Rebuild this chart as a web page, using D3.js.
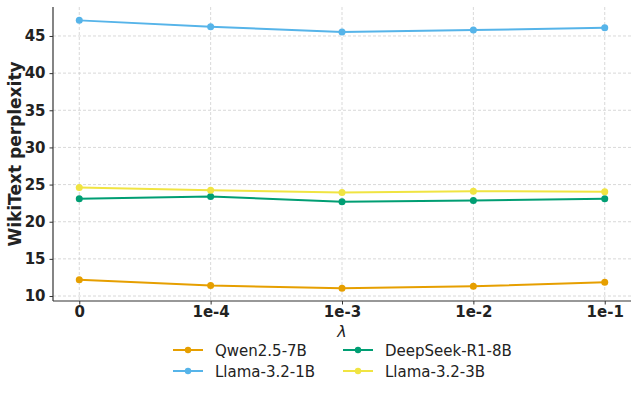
<!DOCTYPE html>
<html>
<head>
<meta charset="utf-8">
<script src="https://cdn.jsdelivr.net/npm/d3@7"></script>
<style>
  body { margin: 0; background: #fff; }
  svg text { font-family: "DejaVu Sans", sans-serif; }
</style>
</head>
<body>
<div id="chart"></div>
<script>
// lambda values on the x axis
var lambdas = ["0", "1e-4", "1e-3", "1e-2", "1e-1"];
var yTicks = [10, 15, 20, 25, 30, 35, 40, 45];

var models = ["Qwen2.5-7B", "Llama-3.2-1B", "DeepSeek-R1-8B", "Llama-3.2-3B"];
var colors = ["#E69F00", "#56B4E9", "#009E73", "#F0E442"];

var qwen = [12.2, 11.4, 11.05, 11.3, 11.85];
var llama1b = [47.1, 46.25, 45.55, 45.8, 46.1];
var deepseek = [23.1, 23.4, 22.7, 22.85, 23.1];
var llama3b = [24.6, 24.25, 23.95, 24.1, 24.05];
var seriesValues = [qwen, llama1b, deepseek, llama3b];

var W = 639, H = 394;
var margin = { left: 53, right: 8, top: 7, bottom: 93 };
var w = W - margin.left - margin.right,
    h = H - margin.top - margin.bottom;

var x = d3.scaleLinear().domain([-0.2, 4.2]).range([0, w]);
var y = d3.scaleLinear().domain([9.33, 48.9]).range([h, 0]);

var svg = d3.select("#chart").append("svg")
  .attr("width", W).attr("height", H);
var g = svg.append("g")
  .attr("transform", "translate(" + margin.left + "," + margin.top + ")");

// grid
g.append("g").selectAll("line").data(yTicks).join("line")
  .attr("x1", 0).attr("x2", w)
  .attr("y1", function (d) { return y(d); }).attr("y2", function (d) { return y(d); })
  .attr("stroke", "#cfcfcf").attr("stroke-width", 0.8).attr("stroke-dasharray", "3,2");
g.append("g").selectAll("line").data(lambdas).join("line")
  .attr("y1", 0).attr("y2", h)
  .attr("x1", function (d, i) { return x(i); }).attr("x2", function (d, i) { return x(i); })
  .attr("stroke", "#cfcfcf").attr("stroke-width", 0.8).attr("stroke-dasharray", "3,2");

// axes
var xAxis = d3.axisBottom(x).tickValues(d3.range(lambdas.length))
  .tickFormat(function (i) { return lambdas[i]; }).tickSize(3.5).tickPadding(2);
var yAxis = d3.axisLeft(y).tickValues(yTicks).tickSize(3.5).tickPadding(4);

var gx = g.append("g").attr("transform", "translate(0," + h + ")").call(xAxis);
var gy = g.append("g").call(yAxis);
[gx, gy].forEach(function (a) {
  a.select(".domain").attr("stroke", "#333").attr("stroke-width", 1.2);
  a.selectAll(".tick line").attr("stroke", "#333");
  a.selectAll(".tick text").attr("fill", "#222")
    .style("font-size", "15px").style("font-weight", "bold");
});
gx.select(".domain").attr("d", "M0,0H" + w);
gy.select(".domain").attr("d", "M0," + h + "V0");

// axis labels
svg.append("text")
  .attr("transform", "translate(21," + (margin.top + h / 2) + ") rotate(-90)")
  .attr("text-anchor", "middle")
  .style("font-size", "17px").style("font-weight", "bold").attr("fill", "#222")
  .text("WikiText perplexity");
svg.append("text")
  .attr("x", margin.left + x(2)).attr("y", 337)
  .attr("text-anchor", "middle")
  .style("font-size", "16px").style("font-style", "italic").attr("fill", "#222")
  .text("λ");

// lines
var line = d3.line()
  .x(function (d, i) { return x(i); })
  .y(function (d) { return y(d); });

seriesValues.forEach(function (vals, k) {
  g.append("path").datum(vals)
    .attr("d", line).attr("fill", "none")
    .attr("stroke", colors[k]).attr("stroke-width", 2);
  g.append("g").selectAll("circle").data(vals).join("circle")
    .attr("cx", function (d, i) { return x(i); })
    .attr("cy", function (d) { return y(d); })
    .attr("r", 3.5).attr("fill", colors[k]);
});

// legend, two columns filled top to bottom
var legend = svg.append("g");
models.forEach(function (m, k) {
  var lx = 173 + Math.floor(k / 2) * 170;
  var ly = 350 + (k % 2) * 21;
  legend.append("line").attr("x1", lx).attr("x2", lx + 30)
    .attr("y1", ly).attr("y2", ly)
    .attr("stroke", colors[k]).attr("stroke-width", 2);
  legend.append("circle").attr("cx", lx + 15).attr("cy", ly).attr("r", 3.2)
    .attr("fill", colors[k]);
  legend.append("text").attr("x", lx + 42).attr("y", ly + 5.5)
    .style("font-size", "15px").attr("fill", "#222").text(m);
});
</script>
</body>
</html>
